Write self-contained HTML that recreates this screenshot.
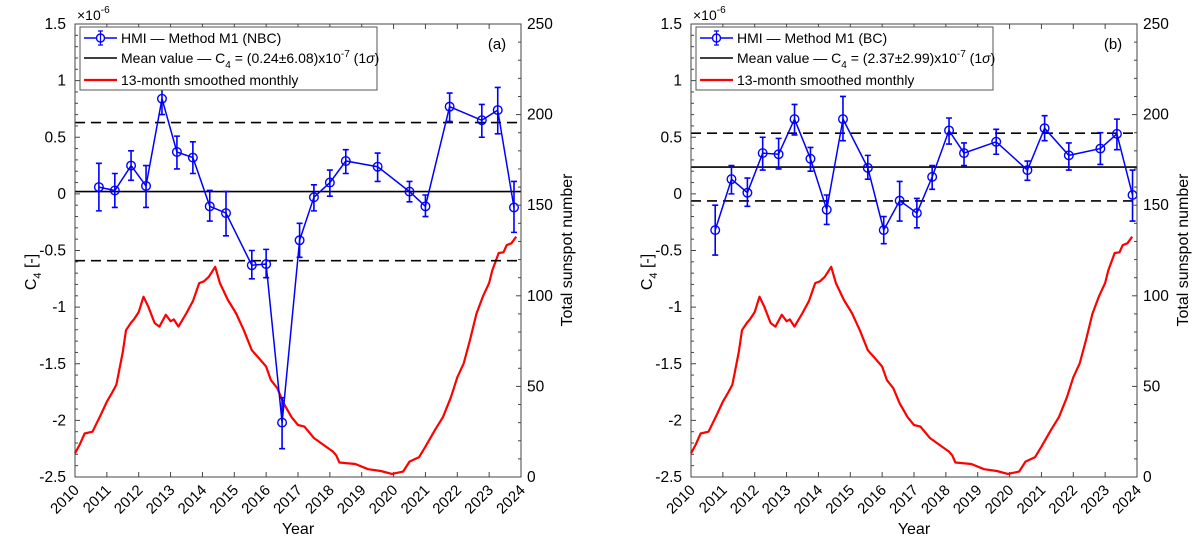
<!DOCTYPE html>
<html><head><meta charset="utf-8"><style>
body{margin:0;background:#fff}
svg{font-family:"Liberation Sans",sans-serif;}
</style></head><body>
<svg id="fig" width="1200" height="539" viewBox="0 0 1200 539"></svg>
<script>
const years=[2010,2011,2012,2013,2014,2015,2016,2017,2018,2019,2020,2021,2022,2023,2024];
const leftTicks=[-2.5,-2,-1.5,-1,-0.5,0,0.5,1,1.5];
const rightTicks=[0,50,100,150,200,250];
// Panel a (NBC)
const aYears=[2010.75,2011.25,2011.76,2012.23,2012.73,2013.2,2013.7,2014.23,2014.74,2015.55,2016.0,2016.5,2017.05,2017.5,2018.0,2018.5,2019.5,2020.5,2021.0,2021.76,2022.77,2023.27,2023.78];
const aVals=[0.06,0.03,0.25,0.07,0.84,0.37,0.32,-0.11,-0.17,-0.63,-0.62,-2.02,-0.41,-0.03,0.10,0.29,0.24,0.02,-0.11,0.77,0.65,0.74,-0.12];
const aHi=[0.27,0.18,0.38,0.25,0.93,0.51,0.46,0.03,0.02,-0.50,-0.49,-1.80,-0.26,0.08,0.21,0.39,0.36,0.11,-0.01,0.89,0.79,0.94,0.11];
const aLo=[-0.15,-0.12,0.12,-0.12,0.70,0.22,0.18,-0.24,-0.37,-0.75,-0.74,-2.25,-0.56,-0.15,-0.02,0.18,0.11,-0.07,-0.20,0.64,0.50,0.53,-0.34];
const aStats=[0.02,0.63,-0.59];
// Panel b (BC)
const bYears=[2010.76,2011.27,2011.77,2012.25,2012.75,2013.25,2013.75,2014.26,2014.77,2015.55,2016.05,2016.55,2017.09,2017.57,2018.1,2018.57,2019.58,2020.56,2021.1,2021.86,2022.85,2023.37,2023.86];
const bVals=[-0.32,0.13,0.01,0.36,0.35,0.66,0.31,-0.14,0.66,0.23,-0.32,-0.06,-0.17,0.15,0.56,0.36,0.46,0.21,0.58,0.34,0.40,0.53,-0.01];
const bHi=[-0.10,0.25,0.14,0.50,0.49,0.79,0.41,-0.01,0.86,0.34,-0.20,0.11,-0.04,0.25,0.67,0.45,0.57,0.29,0.69,0.45,0.54,0.66,0.21];
const bLo=[-0.54,0.00,-0.11,0.21,0.22,0.52,0.20,-0.27,0.47,0.13,-0.44,-0.24,-0.30,0.04,0.44,0.25,0.35,0.12,0.47,0.21,0.26,0.39,-0.24];
const bStats=[0.237,0.536,-0.062];
// Sunspot 13-month smoothed
const ssYears=[2010.0,2010.15,2010.3,2010.55,2010.8,2011.0,2011.15,2011.3,2011.5,2011.6,2011.75,2011.85,2012.0,2012.15,2012.3,2012.5,2012.65,2012.85,2013.0,2013.1,2013.25,2013.5,2013.7,2013.9,2014.05,2014.2,2014.4,2014.55,2014.8,2015.05,2015.3,2015.55,2015.75,2016.0,2016.15,2016.35,2016.55,2016.8,2017.0,2017.2,2017.5,2017.8,2018.1,2018.2,2018.3,2018.8,2019.2,2019.6,2019.95,2020.3,2020.5,2020.8,2021.0,2021.3,2021.55,2021.8,2022.0,2022.2,2022.4,2022.6,2022.8,2023.0,2023.1,2023.3,2023.45,2023.55,2023.7,2023.85];
const ssVals=[13,18,24,25,34,41.6,46,51,69,81,85,87,91,99.5,94,85,83,89.5,86,87,83,90.5,97,107,108,110.5,116,107,97.7,90.5,81,70,66,61,53.5,49,40.6,33,28.7,27.8,21.5,17.7,14,12,8,7.2,4.3,3.3,1.7,3,8.5,11,16.7,26,33,44,55,62.7,75.6,90,99.5,107,114,123.6,124,128,129,132.6];

const svg=document.getElementById('fig');
const NS='http://www.w3.org/2000/svg';
function mk(tag,attrs,parent,text){const e=document.createElementNS(NS,tag);for(const k in attrs)e.setAttribute(k,attrs[k]);if(text!==undefined)e.textContent=text;(parent||svg).appendChild(e);return e;}

function panel(id,x0,x1,yrs,vals,hi,lo,stats,legendLabel,meanText,tag){
  const y0=24,y1=477;
  const g=mk('g',{});
  
  
  const X=t=>x0+(t-2010)/14*(x1-x0);
  const Y=v=>y1-(v+2.5)/4*(y1-y0);
  const Y2=v=>y1-v/250*(y1-y0);
  const sp=ssYears.map((t,i)=>(i?'L':'M')+X(t).toFixed(1)+' '+Y2(ssVals[i]).toFixed(1)).join(' ');
  const ss=mk('path',{d:sp,fill:'none',stroke:'#f00','stroke-width':2.2,'stroke-linejoin':'round'},g);
  
  
  stats.forEach((s,i)=>{
    const l=mk('line',{x1:x0,x2:x1,y1:Y(s),y2:Y(s),stroke:'#000','stroke-width':1.6,'stroke-dasharray':i?'10,6':'none'},g);
    
    
  });
  const lp=yrs.map((t,i)=>(i?'L':'M')+X(t).toFixed(1)+' '+Y(vals[i]).toFixed(1)).join(' ');
  const sl=mk('path',{d:lp,fill:'none',stroke:'#00f','stroke-width':1.5},g);
  
  
  yrs.forEach((t,i)=>{
    const x=X(t);
    const eb=mk('path',{d:`M${x} ${Y(hi[i])}L${x} ${Y(lo[i])}M${x-3} ${Y(hi[i])}L${x+3} ${Y(hi[i])}M${x-3} ${Y(lo[i])}L${x+3} ${Y(lo[i])}`,stroke:'#00f','stroke-width':1.6,fill:'none'},g);
    
    
    const c=mk('circle',{cx:x,cy:Y(vals[i]),r:4.3,fill:'none',stroke:'#00f','stroke-width':1.4},g);
    
    
  });
  const box=mk('rect',{x:x0,y:y0,width:x1-x0,height:y1-y0,fill:'none',stroke:'#444','stroke-width':1},g);
  
  
  years.forEach(t=>{
    const x=X(t);
    mk('line',{x1:x,x2:x,y1:y1,y2:y1-5,stroke:'#444'},g);
    mk('line',{x1:x,x2:x,y1:y0,y2:y0+5,stroke:'#444'},g);
    const tl=mk('text',{x:x+5,y:y1+14,'font-size':15,'text-anchor':'end',transform:`rotate(-45 ${x+5} ${y1+14})`},g,String(t));
    
    
  });
  for(let v=-2.5;v<=1.5001;v+=0.1){
    const major=Math.abs(v*2-Math.round(v*2))<1e-6;
    mk('line',{x1:x0,x2:x0+(major?5:3),y1:Y(v),y2:Y(v),stroke:'#444'},g);
  }
  leftTicks.forEach(v=>{
    const tl=mk('text',{x:x0-9,y:Y(v)+5,'font-size':15.5,'text-anchor':'end'},g,String(v));
    
    
  });
  for(let v=0;v<=250;v+=10){
    const major=v%50===0;
    mk('line',{x1:x1,x2:x1-(major?5:3),y1:Y2(v),y2:Y2(v),stroke:'#444'},g);
  }
  rightTicks.forEach(v=>{
    const tl=mk('text',{x:x1+6,y:Y2(v)+5,'font-size':15.5},g,String(v));
    
    
  });
  const ex=mk('text',{x:x0+2,y:20,'font-size':14},g);
  
  
  ex.innerHTML='×10<tspan dy="-7" font-size="10">-6</tspan>';
  const yl=mk('text',{x:0,y:0,'font-size':16,'text-anchor':'middle',transform:`translate(${x0-39} 272) rotate(-90)`},g);
  
  
  yl.innerHTML='C<tspan dy="5" font-size="11">4</tspan><tspan dy="-5"> [-]</tspan>';
  const yr=mk('text',{x:0,y:0,'font-size':16,'text-anchor':'middle',transform:`translate(${x1+51} 250) rotate(-90)`},g,'Total sunspot number');
  
  
  const xt=mk('text',{x:(x0+x1)/2,y:534,'font-size':16,'text-anchor':'middle'},g,'Year');
  
  
  const pt=mk('text',{x:x1-24,y:49,'font-size':15,'text-anchor':'middle'},g,tag);
  
  
  const lx=x0+5,lw=297;
  const lg=mk('g',{},g);
  
  
  mk('rect',{x:lx,y:27,width:lw,height:63,fill:'#fff',stroke:'#555','stroke-width':1},lg);
  const rows=[38,58,80];
  mk('line',{x1:lx+4,x2:lx+37,y1:rows[0],y2:rows[0],stroke:'#00f','stroke-width':1.5},lg);
  mk('circle',{cx:lx+20.5,cy:rows[0],r:4,fill:'#fff',stroke:'#00f','stroke-width':1.4},lg);
  mk('path',{d:`M${lx+20.5} ${rows[0]-7}V${rows[0]+7}M${lx+18} ${rows[0]-7}h5M${lx+18} ${rows[0]+7}h5`,stroke:'#00f','stroke-width':1.2},lg);
  mk('line',{x1:lx+4,x2:lx+37,y1:rows[1],y2:rows[1],stroke:'#000','stroke-width':1.6},lg);
  mk('line',{x1:lx+4,x2:lx+37,y1:rows[2],y2:rows[2],stroke:'#f00','stroke-width':2.2},lg);
  const t1=mk('text',{x:lx+41,y:rows[0]+5,'font-size':14},lg,legendLabel);
  
  
  const t2=mk('text',{x:lx+41,y:rows[1]+5,'font-size':14},lg);
  
  
  t2.innerHTML='Mean value — C<tspan dy="5" font-size="10">4</tspan><tspan dy="-5"> = ('+meanText+')x10</tspan><tspan dy="-6" font-size="10">-7</tspan><tspan dy="6"> (1</tspan><tspan font-style="italic">σ</tspan>)';
  const t3=mk('text',{x:lx+41,y:rows[2]+5,'font-size':14},lg,'13-month smoothed monthly');
  
  
}
panel('a',75,521,aYears,aVals,aHi,aLo,aStats,'HMI — Method M1 (NBC)','0.24±6.08','(a)');
panel('b',691,1137,bYears,bVals,bHi,bLo,bStats,'HMI — Method M1 (BC)','2.37±2.99','(b)');
</script>
</body></html>
